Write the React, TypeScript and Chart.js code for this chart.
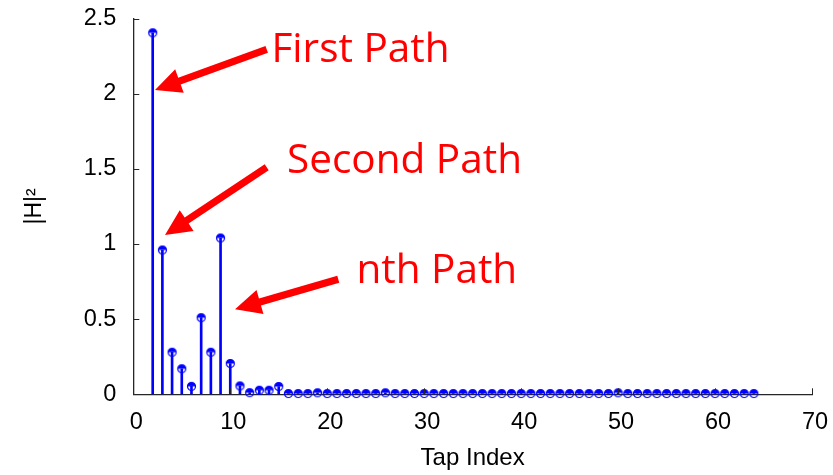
import React, { useEffect, useRef } from 'react';
import { Chart, registerables } from 'chart.js';

Chart.register(...registerables);

// ---- data ----
const tapIndex = [
  2, 3, 4, 5, 6, 7, 8, 9, 10, 11, 12, 13, 14, 15,
  16, 17, 18, 19, 20, 21, 22, 23, 24, 25, 26, 27, 28, 29, 30,
  31, 32, 33, 34, 35, 36, 37, 38, 39, 40, 41, 42, 43, 44, 45,
  46, 47, 48, 49, 50, 51, 52, 53, 54, 55, 56, 57, 58, 59, 60,
  61, 62, 63, 64,
];
const powerH2 = [
  2.405, 0.96, 0.28, 0.17, 0.053, 0.51, 0.28, 1.04, 0.205, 0.056, 0.011, 0.027, 0.027, 0.052,
  0.005, 0.005, 0.005, 0.01, 0.005, 0.005, 0.005, 0.005, 0.005, 0.005, 0.01, 0.005, 0.005, 0.005, 0.005,
  0.005, 0.005, 0.005, 0.005, 0.005, 0.005, 0.005, 0.005, 0.005, 0.005, 0.005, 0.005, 0.005, 0.005, 0.005,
  0.005, 0.005, 0.005, 0.005, 0.01, 0.005, 0.005, 0.005, 0.005, 0.005, 0.005, 0.005, 0.005, 0.005, 0.005,
  0.005, 0.005, 0.005, 0.005,
];
const xTickValues = [0, 10, 20, 30, 40, 50, 60, 70];
const yTickValues = [0, 0.5, 1, 1.5, 2, 2.5];

// annotation labels, anchored in data units
const annotationLabels = ['First Path', 'Second Path', 'nth Path'];
const annotationLabelX = [14.25, 15.85, 23.01];
const annotationLabelY = [2.213, 1.474, 0.743];
const arrowTailX = [13.76, 13.76, 21.14];
const arrowTailY = [2.295, 1.51, 0.765];
const arrowTipX = [2.24, 3.27, 10.49];
const arrowTipY = [2.025, 1.06, 0.566];

const BLUE = '#0000ff';
const RED = '#ff0000';
const AXIS = '#262626';

function makeMarker(): HTMLCanvasElement {
  const c = document.createElement('canvas');
  c.width = 11;
  c.height = 11;
  const g = c.getContext('2d')!;
  const cx = 5.5, cy = 5.5, r = 4;
  g.fillStyle = BLUE;
  g.beginPath();
  g.arc(cx, cy, r, Math.PI, 2 * Math.PI);
  g.closePath();
  g.fill();
  g.strokeStyle = BLUE;
  g.lineWidth = 1.2;
  g.beginPath();
  g.arc(cx, cy, r, 0, 2 * Math.PI);
  g.stroke();
  return c;
}

const innerTicksPlugin = {
  id: 'innerTicks',
  afterDatasetsDraw(chart: any) {
    const { ctx, chartArea, scales } = chart;
    ctx.save();
    ctx.strokeStyle = AXIS;
    ctx.lineWidth = 1;
    xTickValues.forEach((v) => {
      const px = Math.round(scales.x.getPixelForValue(v)) + 0.5;
      ctx.beginPath();
      ctx.moveTo(px, chartArea.bottom);
      ctx.lineTo(px, chartArea.bottom - 6);
      ctx.stroke();
    });
    yTickValues.forEach((v) => {
      const py = Math.round(scales.y.getPixelForValue(v)) + 0.5;
      ctx.beginPath();
      ctx.moveTo(chartArea.left, py);
      ctx.lineTo(chartArea.left + 6, py);
      ctx.stroke();
    });
    ctx.restore();
  },
};

const annotationPlugin = {
  id: 'pathAnnotations',
  afterDraw(chart: any) {
    const { ctx, scales } = chart;
    const sx = scales.x, sy = scales.y;
    ctx.save();
    ctx.fillStyle = RED;
    ctx.strokeStyle = RED;
    for (let i = 0; i < arrowTailX.length; i++) {
      const x0 = sx.getPixelForValue(arrowTailX[i]);
      const y0 = sy.getPixelForValue(arrowTailY[i]);
      const x1 = sx.getPixelForValue(arrowTipX[i]);
      const y1 = sy.getPixelForValue(arrowTipY[i]);
      const dx = x1 - x0, dy = y1 - y0;
      const len = Math.hypot(dx, dy);
      const ux = dx / len, uy = dy / len;
      const nx = -uy, ny = ux;
      const headLen = 26, headHalf = 12.5, shaftHalf = 3.6;
      const bx = x1 - ux * headLen, by = y1 - uy * headLen;
      ctx.beginPath();
      ctx.moveTo(x0 + nx * shaftHalf, y0 + ny * shaftHalf);
      ctx.lineTo(bx + nx * shaftHalf, by + ny * shaftHalf);
      ctx.lineTo(bx + nx * headHalf, by + ny * headHalf);
      ctx.lineTo(x1, y1);
      ctx.lineTo(bx - nx * headHalf, by - ny * headHalf);
      ctx.lineTo(bx - nx * shaftHalf, by - ny * shaftHalf);
      ctx.lineTo(x0 - nx * shaftHalf, y0 - ny * shaftHalf);
      ctx.closePath();
      ctx.fill();
    }
    ctx.font = '40.5px "Open Sans"';
    ctx.textAlign = 'left';
    ctx.textBaseline = 'alphabetic';
    annotationLabels.forEach((t, i) => {
      ctx.fillText(t, sx.getPixelForValue(annotationLabelX[i]), sy.getPixelForValue(annotationLabelY[i]));
    });
    ctx.restore();
  },
};

export default function App() {
  const canvasRef = useRef<HTMLCanvasElement | null>(null);

  useEffect(() => {
    document.body.style.margin = '0';
    const canvas = canvasRef.current;
    if (!canvas) return;
    const marker = makeMarker();
    const points = tapIndex.map((x, i) => ({ x, y: powerH2[i] }));
    const tickFont = { family: '"Liberation Sans", Arial, sans-serif', size: 23.5 };

    const chart = new Chart(canvas, {
      type: 'scatter',
      data: {
        datasets: [
          {
            type: 'scatter',
            data: points,
            pointStyle: marker as any,
            pointRadius: 4,
            clip: false as any,
            order: 0,
          },
          {
            type: 'bar',
            data: points as any,
            backgroundColor: BLUE,
            borderWidth: 0,
            barThickness: 2,
            order: 1,
          } as any,
        ],
      },
      plugins: [innerTicksPlugin, annotationPlugin],
      options: {
        responsive: false,
        animation: false,
        events: [],
        layout: { autoPadding: false, padding: { left: 0, right: 21, top: 18.5, bottom: 0 } },
        plugins: { legend: { display: false }, tooltip: { enabled: false } },
        scales: {
          x: {
            type: 'linear',
            min: 0,
            max: 70,
            offset: false,
            afterBuildTicks: (scale: any) => {
              scale.ticks = xTickValues.map((v) => ({ value: v }));
            },
            afterFit: (scale: any) => {
              scale.height = 80.7;
              scale.paddingLeft = 0;
              scale.paddingRight = 0;
            },
            grid: { display: false, drawTicks: false },
            border: { display: true, color: AXIS, width: 1.3 },
            ticks: {
              color: '#000',
              font: tickFont,
              padding: 14,
              labelOffset: 3,
              maxRotation: 0,
              autoSkip: false,
              callback: (v: any) => String(v),
            },
            title: {
              display: true,
              text: 'Tap Index',
              color: '#000',
              font: { family: '"Liberation Sans", Arial, sans-serif', size: 24 },
              padding: { top: 0, bottom: 2 },
            },
          },
          y: {
            type: 'linear',
            min: 0,
            max: 2.5,
            afterBuildTicks: (scale: any) => {
              scale.ticks = yTickValues.map((v) => ({ value: v }));
            },
            afterFit: (scale: any) => {
              scale.width = 133.3;
              scale.paddingTop = 0;
              scale.paddingBottom = 0;
            },
            grid: { display: false, drawTicks: false },
            border: { display: true, color: AXIS, width: 1.3 },
            ticks: {
              color: '#000',
              font: tickFont,
              padding: 17,
              autoSkip: false,
              callback: (v: any) => String(v),
            },
            title: {
              display: true,
              text: '|H|²',
              color: '#000',
              font: { family: '"Liberation Sans", Arial, sans-serif', size: 23 },
              padding: { top: 21, bottom: 0 },
            },
          },
        },
      } as any,
    });
    return () => chart.destroy();
  }, []);

  return (
    <div style={{ position: 'fixed', left: 0, top: 0, width: 833, height: 475 }}>
      <canvas ref={canvasRef} width={833} height={475} style={{ display: 'block', width: 833, height: 475 }} />
    </div>
  );
}
